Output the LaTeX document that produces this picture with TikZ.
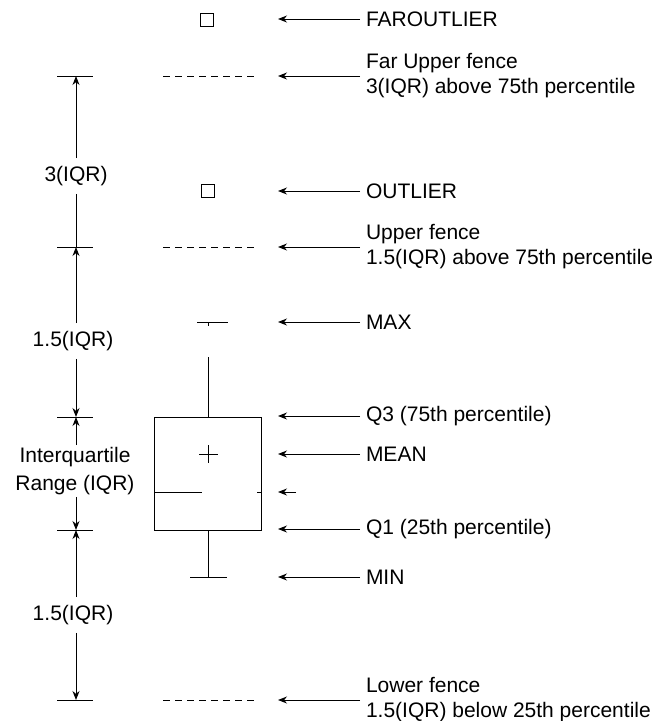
\documentclass[tikz,border=0pt]{standalone}
\usepackage{fontspec}
\setmainfont{Liberation Sans}
\usetikzlibrary{positioning,arrows.meta}
\tikzset{
  lab/.style={anchor=west,align=left,inner sep=0pt,outer xsep=6pt,font=\fontsize{21}{25}\selectfont},
  dimlab/.style={align=center,inner xsep=0pt,inner ysep=8pt,font=\fontsize{21}{28}\selectfont},
  pointer/.style={-{Stealth[length=9pt,width=7pt]},line width=1pt},
  dimarrow/.style={-{Stealth[length=9pt,width=7pt]},line width=1pt},
  fence/.style={dash pattern=on 7pt off 5pt,line width=1pt},
  outlier/.style={draw,line width=1pt,minimum size=13pt,inner sep=0pt},
  plotline/.style={line width=1pt}
}
\begin{document}
\begin{tikzpicture}[x=1pt,y=-1pt]
\useasboundingbox (0,0) rectangle (669,721);

% box plot
\node[outlier] (far) at (207,20) {};
\node[outlier] (out) at (208,191) {};
\draw[fence] (163,76) -- (254,76);
\draw[fence] (163,247) -- (254,247);
\draw[fence] (163,700) -- (254,700);
\node[draw,line width=1pt,minimum width=107pt,minimum height=113pt,inner sep=0pt] (box) at (208,473.5) {};
\draw[plotline] (155,492) -- (202,492);
\draw[plotline] (257,492) -- (262,492);
\draw[plotline] (199,454) -- (218,454) (208,445) -- (208,463);
\draw[plotline] (box.north) -- (208,357);
\draw[plotline] (197,322) -- (228,322) (208,322) -- (208,326);
\draw[plotline] (box.south) -- (208,577);
\draw[plotline] (190,577) -- (227,577);

% labels and pointers
\node[lab] (lfar) at (360,19) {FAROUTLIER};
\node[lab] (lfuf) at (360,76) {Far Upper fence\\3(IQR) above 75th percentile};
\node[lab] (lout) at (360,191) {OUTLIER};
\node[lab] (luf) at (360,247) {Upper fence\\1.5(IQR) above 75th percentile};
\node[lab] (lmax) at (360,322) {MAX};
\node[lab] (lq3) at (360,416) {Q3 (75th percentile)};
\node[lab] (lmean) at (360,454) {MEAN};
\node[lab] (lq1) at (360,529) {Q1 (25th percentile)};
\node[lab] (lmin) at (360,577) {MIN};
\node[lab] (llf) at (360,700) {Lower fence\\1.5(IQR) below 25th percentile};

\coordinate (pfar) at (278,19);
\coordinate (pfuf) at (278,76);
\coordinate (pout) at (278,191);
\coordinate (puf) at (278,247);
\coordinate (pmax) at (278,322);
\coordinate (pq3) at (278,416);
\coordinate (pmean) at (278,454);
\coordinate (pmedtail) at (296,492);
\coordinate (pmed) at (278,492);
\coordinate (pq1) at (278,529);
\coordinate (pmin) at (278,577);
\coordinate (plf) at (278,700);

\draw[pointer] (lfar.west) -- (pfar);
\draw[pointer] (lfuf.west) -- (pfuf);
\draw[pointer] (lout.west) -- (pout);
\draw[pointer] (luf.west) -- (puf);
\draw[pointer] (lmax.west) -- (pmax);
\draw[pointer] (lq3.west) -- (pq3);
\draw[pointer] (lmean.west) -- (pmean);
\draw[pointer] (pmedtail) -- (pmed);
\draw[pointer] (lq1.west) -- (pq1);
\draw[pointer] (lmin.west) -- (pmin);
\draw[pointer] (llf.west) -- (plf);

% dimension line
\coordinate (t1) at (76,76);
\coordinate (t2) at (76,247);
\coordinate (t3) at (76,417);
\coordinate (t4) at (76,530);
\coordinate (t5) at (76,700);
\foreach \t in {t1,t2,t3,t4,t5}
  \draw[plotline] ([xshift=-19pt]\t) -- ([xshift=17pt]\t);

\node[dimlab] (d3) at (76,176) {3(IQR)};
\node[dimlab] (d15a) at (73,341) {1.5(IQR)};
\node[dimlab,inner ysep=2pt] (diqr) at (75,471) {Interquartile\\Range (IQR)};
\node[dimlab] (d15b) at (73,615) {1.5(IQR)};

\draw[dimarrow] (d3.north -| t1) -- (t1);
\draw[plotline] (d3.south -| t2) -- (t2);
\draw[dimarrow] (d15a.north -| t2) -- (t2);
\draw[dimarrow] (d15a.south -| t3) -- (t3);
\draw[dimarrow] (diqr.north -| t3) -- (t3);
\draw[dimarrow] (diqr.south -| t4) -- (t4);
\draw[dimarrow] (d15b.north -| t4) -- (t4);
\draw[dimarrow] (d15b.south -| t5) -- (t5);
\end{tikzpicture}
\end{document}
